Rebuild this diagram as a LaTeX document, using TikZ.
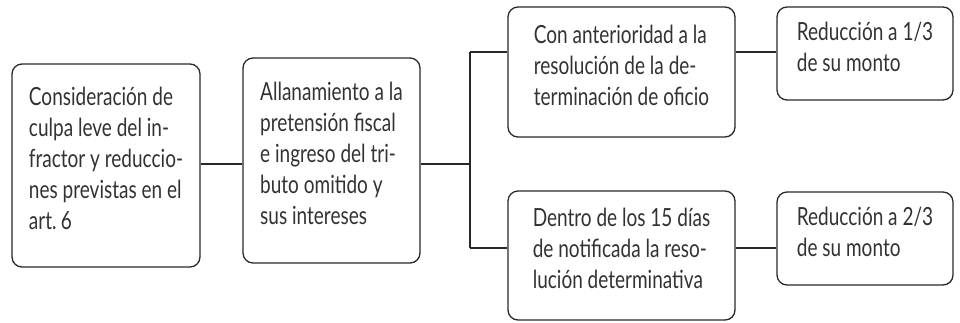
\documentclass[tikz,border=0pt]{standalone}
\usepackage{fontspec}
\setmainfont{Lato}[FakeStretch=0.76]
\usetikzlibrary{calc}
\definecolor{lineColor}{RGB}{40,40,40}
\definecolor{txtColor}{RGB}{50,50,50}

\tikzset{
    stepbox/.style={draw=lineColor, line width=1.3pt, rounded corners=10pt,
        inner sep=0pt, align=left, text=txtColor,
        font=\fontsize{25}{31}\selectfont,
        execute at end node={\rule[-14pt]{0pt}{14pt}}},
    link/.style={draw=lineColor, line width=1.3pt}
}

\begin{document}
\begin{tikzpicture}[x=1pt,y=-1pt]
    \useasboundingbox (0,0) rectangle (960,322);

    \node[stepbox, minimum width=188pt, minimum height=203pt] (cons) at (106,165.5)
        {Consideración de\\culpa leve del in-\\fractor y reduccio-\\nes previstas en el\\art.\,6};
    \node[stepbox, minimum width=177pt, minimum height=205pt] (allan) at (331.5,160.5)
        {Allanamiento a la\\pretensión fiscal\\e ingreso del tri-\\buto omitido y\\sus intereses};
    \node[stepbox, minimum width=227pt, minimum height=130pt] (ant) at (621.5,72)
        {Con anterioridad a la\\resolución de la de-\\terminación de oficio};
    \node[stepbox, minimum width=227pt, minimum height=129pt] (dent) at (621.5,255.5)
        {Dentro de los 15 días\\de notificada la reso-\\lución determinativa};
    \node[stepbox, minimum width=176pt, minimum height=93pt] (red1) at (865,53.5)
        {Reducción a 1/3\\de su monto};
    \node[stepbox, minimum width=176pt, minimum height=93pt] (red2) at (865,238.5)
        {Reducción a 2/3\\de su monto};

    % junction points of the bracket
    \coordinate (jm) at (470,164);
    \coordinate (jt) at (470,52);
    \coordinate (jb) at (470,248);

    \draw[link] (cons.east |- jm) -- (allan.west |- jm);
    \draw[link] (allan.east |- jm) -- (jm);
    \draw[link] (jt) -- (jb);
    \draw[link] (jt) -- (ant.west |- jt);
    \draw[link] (jb) -- (dent.west |- jb);
    \draw[link] (ant.east |- jt) -- (red1.west |- jt);
    \draw[link] (dent.east |- jb) -- (red2.west |- jb);
\end{tikzpicture}
\end{document}
